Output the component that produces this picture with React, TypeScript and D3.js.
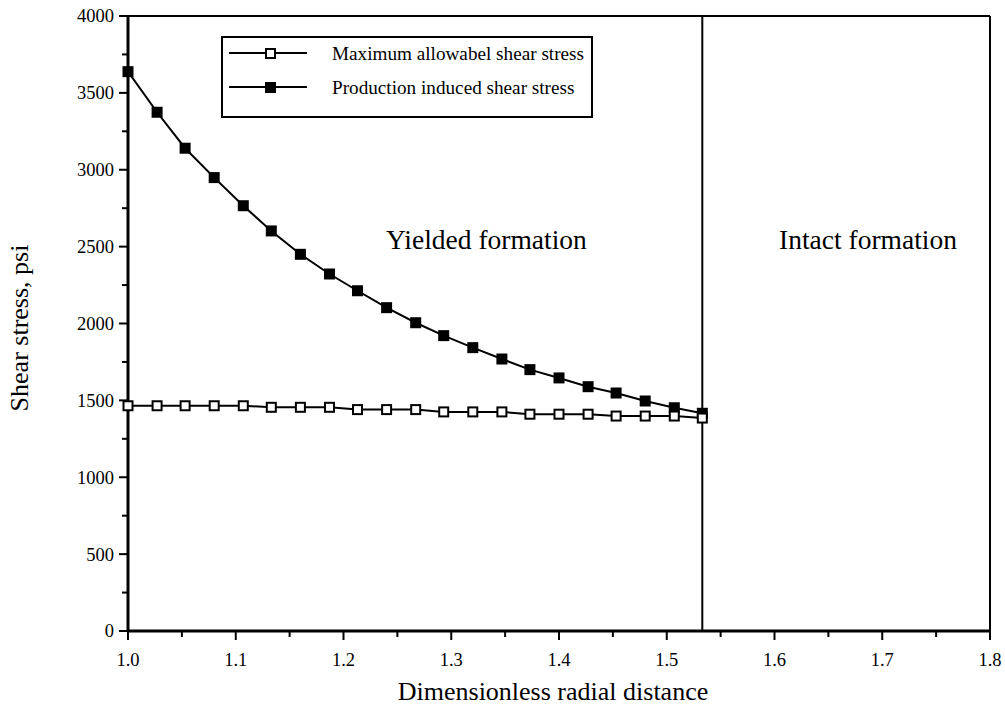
import React from 'react';
import * as d3 from 'd3';

// radial distance r/rw
const radialDistance = [
  1.0, 1.027, 1.053, 1.08, 1.107, 1.133, 1.16, 1.187, 1.213, 1.24, 1.267,
  1.293, 1.32, 1.347, 1.373, 1.4, 1.427, 1.453, 1.48, 1.507, 1.533,
];
const allowableStress = [
  1465, 1465, 1465, 1465, 1465, 1455, 1455, 1455, 1440, 1440, 1440,
  1425, 1425, 1425, 1410, 1410, 1410, 1398, 1398, 1398, 1385,
];
const inducedStress = [
  3638, 3374, 3140, 2949, 2766, 2602, 2450, 2322, 2213, 2103, 2005,
  1921, 1843, 1769, 1700, 1646, 1589, 1548, 1496, 1452, 1416,
];
const yieldBoundary = 1.533;
const xTicks = [1.0, 1.1, 1.2, 1.3, 1.4, 1.5, 1.6, 1.7, 1.8];
const yTicks = [0, 500, 1000, 1500, 2000, 2500, 3000, 3500, 4000];
const seriesNames = ['Maximum allowabel shear stress', 'Production induced shear stress'];

const FONT = "'Liberation Serif', 'Times New Roman', 'DejaVu Serif', serif";

export default function App() {
  const width = 1005;
  const height = 715;
  const margin = { top: 16, right: 15, bottom: 84, left: 128 };
  const innerW = width - margin.left - margin.right;
  const innerH = height - margin.top - margin.bottom;

  const x = d3.scaleLinear().domain([1.0, 1.8]).range([0, innerW]);
  const y = d3.scaleLinear().domain([0, 4000]).range([innerH, 0]);

  const line = d3.line<[number, number]>()
    .x(d => x(d[0]))
    .y(d => y(d[1]));

  const allowPts: [number, number][] = radialDistance.map((r, i) => [r, allowableStress[i]]);
  const inducedPts: [number, number][] = radialDistance.map((r, i) => [r, inducedStress[i]]);

  const xMinor = d3.range(1.05, 1.8, 0.1);
  const yMinor = d3.range(250, 4000, 500);
  const sq = 11;

  return (
    <svg width={width} height={height}
      style={{ position: 'absolute', left: 0, top: 0, background: '#fff', fontFamily: FONT }}>
      <g transform={`translate(${margin.left},${margin.top})`}>
        {/* frame */}
        <line x1={0} x2={innerW} y1={0} y2={0} stroke="#000" strokeWidth={2} />
        <line x1={innerW} x2={innerW} y1={0} y2={innerH} stroke="#000" strokeWidth={2} />
        <line x1={0} x2={0} y1={0} y2={innerH} stroke="#000" strokeWidth={3} />
        <line x1={0} x2={innerW} y1={innerH} y2={innerH} stroke="#000" strokeWidth={3} />

        {/* y axis ticks */}
        {yTicks.map(t => (
          <g key={'y' + t} transform={`translate(0,${y(t)})`}>
            <line x1={-9} x2={0} stroke="#000" strokeWidth={2} />
            <text x={-14} dy="0.35em" textAnchor="end" fontSize={18.5}>{t}</text>
          </g>
        ))}
        {yMinor.map(t => (
          <line key={'ym' + t} x1={-6} x2={0} y1={y(t)} y2={y(t)} stroke="#000" strokeWidth={2} />
        ))}

        {/* x axis ticks */}
        {xTicks.map(t => (
          <g key={'x' + t} transform={`translate(${x(t)},${innerH})`}>
            <line y1={0} y2={9} stroke="#000" strokeWidth={2} />
            <text y={35} textAnchor="middle" fontSize={18.5}>{d3.format('.1f')(t)}</text>
          </g>
        ))}
        {xMinor.map(t => (
          <line key={'xm' + t} x1={x(t)} x2={x(t)} y1={innerH} y2={innerH + 6} stroke="#000" strokeWidth={2} />
        ))}

        {/* boundary between yielded and intact formation */}
        <line x1={x(yieldBoundary)} x2={x(yieldBoundary)} y1={0} y2={innerH} stroke="#000" strokeWidth={2} />

        {/* series */}
        <path d={line(inducedPts) || ''} fill="none" stroke="#000" strokeWidth={2} />
        <path d={line(allowPts) || ''} fill="none" stroke="#000" strokeWidth={2} />
        {inducedPts.map((p, i) => (
          <rect key={'i' + i} x={x(p[0]) - sq / 2} y={y(p[1]) - sq / 2} width={sq} height={sq} fill="#000" />
        ))}
        {allowPts.map((p, i) => (
          <rect key={'a' + i} x={x(p[0]) - sq / 2 + 1} y={y(p[1]) - sq / 2 + 1} width={sq - 2} height={sq - 2}
            fill="#fff" stroke="#000" strokeWidth={2} />
        ))}

        {/* region labels */}
        <text x={258} y={233} fontSize={27.5}>Yielded formation</text>
        <text x={651} y={233} fontSize={27.5}>Intact formation</text>

        {/* legend */}
        <g transform="translate(94,21)">
          <rect x={0} y={0} width={370} height={80} fill="#fff" stroke="#000" strokeWidth={2} />
          {seriesNames.map((name, i) => (
            <g key={name} transform={`translate(0,${16 + i * 34})`}>
              <line x1={7} x2={85} stroke="#000" strokeWidth={2} />
              {i === 0
                ? <rect x={44} y={-4} width={9} height={9} fill="#fff" stroke="#000" strokeWidth={2} />
                : <rect x={43} y={-5} width={11} height={11} fill="#000" />}
              <text x={110} dy="0.35em" fontSize={19.2}>{name}</text>
            </g>
          ))}
        </g>
      </g>

      {/* axis titles */}
      <text x={553} y={700} textAnchor="middle" fontSize={26}>Dimensionless radial distance</text>
      <text transform={`translate(28,328) rotate(-90)`} textAnchor="middle" fontSize={26}>
        Shear stress, psi
      </text>
    </svg>
  );
}
